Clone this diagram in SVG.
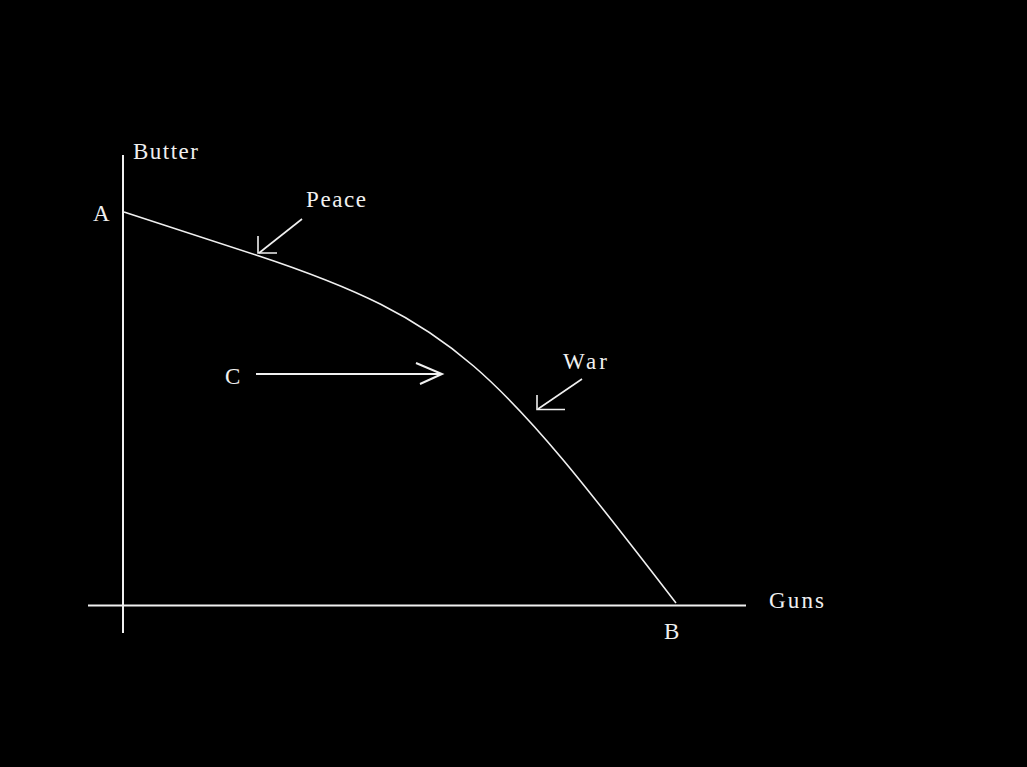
<svg xmlns="http://www.w3.org/2000/svg" width="1027" height="767" viewBox="0 0 1027 767">
<style>
.ln{stroke:#f0f0f0;fill:none;stroke-width:2}
.thin{stroke:#f0f0f0;fill:none;stroke-width:1.6}
.t{font-family:"Liberation Serif","Times New Roman",serif;font-size:23px;fill:#f0f0f0}
</style>
<rect x="0" y="0" width="1027" height="767" fill="#000"/>
<g id="axes">
<line class="ln" x1="123" y1="155" x2="123" y2="633"/>
<line class="ln" x1="88" y1="605.5" x2="746" y2="605.5"/>
</g>
<g id="curve">
<path class="thin" d="M124,212 L256,255 C456,321 496,369 676,603"/>
</g>
<g id="connectors">
<g id="peace-arrow">
<line class="thin" x1="302" y1="219" x2="259" y2="253"/>
<polyline class="thin" points="258,236 258,253 277,253"/>
</g>
<g id="war-arrow">
<line class="thin" x1="582" y1="379" x2="538" y2="409"/>
<polyline class="thin" points="537,395 537,409.5 565,409.5"/>
</g>
<g id="c-arrow">
<line class="ln" x1="256" y1="374" x2="442" y2="374"/>
<polyline class="ln" points="416,363 442,374 420,384"/>
</g>
</g>
<g id="labels">
<text class="t" x="133" y="159" textLength="65" lengthAdjust="spacing">Butter</text>
<text class="t" x="93" y="221">A</text>
<text class="t" x="306" y="207" textLength="60" lengthAdjust="spacing">Peace</text>
<text class="t" x="225" y="384">C</text>
<text class="t" x="563" y="369" textLength="44" lengthAdjust="spacing">War</text>
<text class="t" x="769" y="608" textLength="55" lengthAdjust="spacing">Guns</text>
<text class="t" x="664" y="639">B</text>
</g>
</svg>
